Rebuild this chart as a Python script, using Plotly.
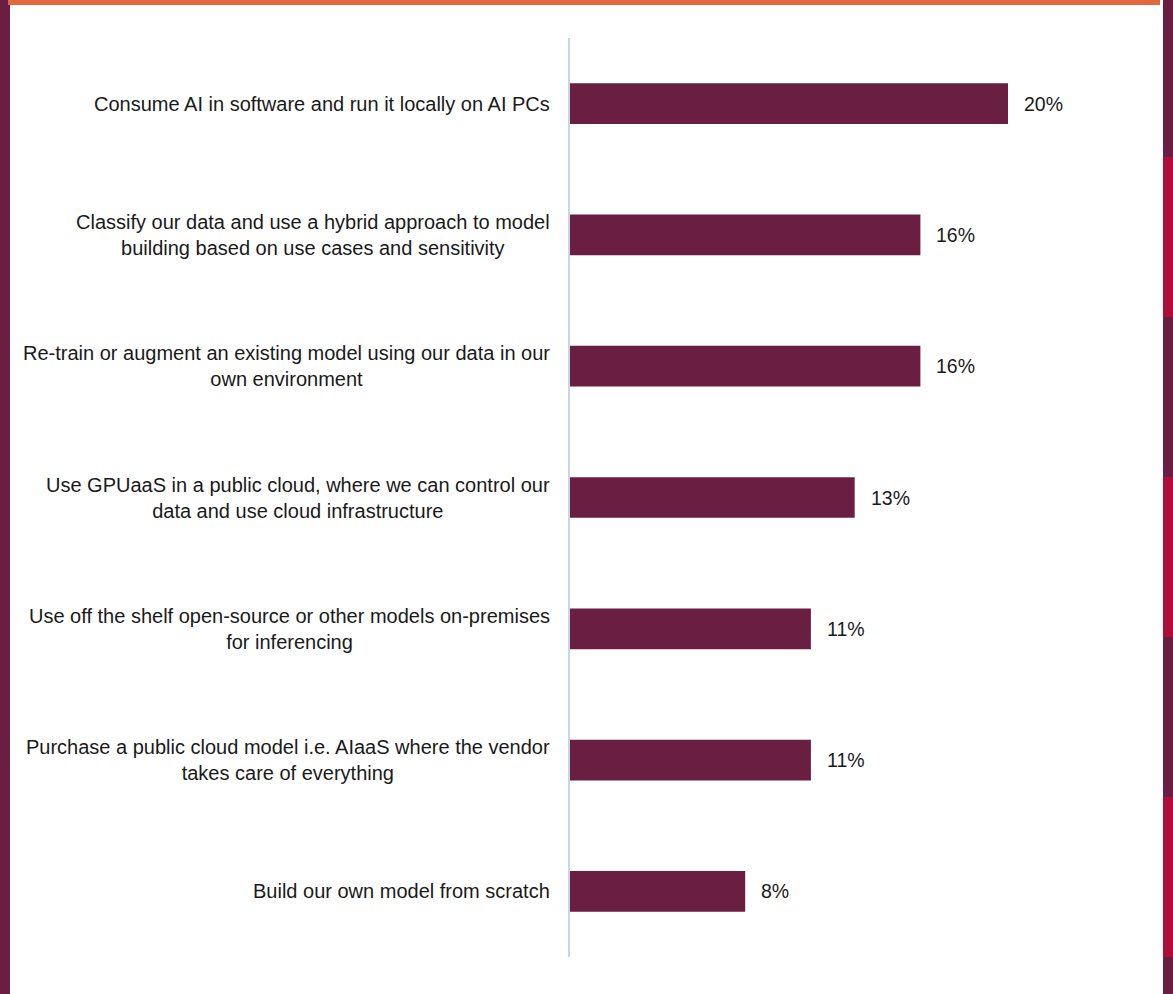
import plotly.graph_objects as go

categories = [
    "Consume AI in software and run it locally on AI PCs",
    "Classify our data and use a hybrid approach to model<br>building based on use cases and sensitivity",
    "Re-train or augment an existing model using our data in our<br>own environment",
    "Use GPUaaS in a public cloud, where we can control our<br>data and use cloud infrastructure",
    "Use off the shelf open-source or other models on-premises<br>for inferencing",
    "Purchase a public cloud model i.e. AIaaS where the vendor<br>takes care of everything",
    "Build our own model from scratch",
]
values = [20, 16, 16, 13, 11, 11, 8]
value_labels = ["20%", "16%", "16%", "13%", "11%", "11%", "8%"]

W, H = 1173, 994
ML, MR, MT, MB = 570, 23, 38, 37
PW = W - ML - MR
PH = H - MT - MB

FONT = "Arial, 'Liberation Sans', sans-serif"
PLUM = "#6A1E41"
CRIMSON = "#B10D3B"
ORANGE = "#E4663F"

fig = go.Figure()
fig.add_trace(go.Bar(
    y=categories, x=values, orientation="h",
    marker=dict(color=PLUM, line=dict(width=0)),
    width=0.31, hoverinfo="skip",
))

annotations = []
for cat, v, lab in zip(categories, values, value_labels):
    annotations.append(dict(
        x=0, xref="paper", y=cat, yref="y", text=cat,
        xanchor="right", yanchor="middle", align="center",
        xshift=-18, showarrow=False,
        font=dict(family=FONT, size=20, color="#1a1a1a"),
    ))
    annotations.append(dict(
        x=v, xref="x", y=cat, yref="y", text=lab,
        xanchor="left", yanchor="middle", xshift=14, showarrow=False,
        font=dict(family=FONT, size=19.5, color="#1a1a1a"),
    ))

def px_x(p):
    return (p - ML) / PW

def px_y(p):
    return 1 - (p - MT) / PH

shapes = []
# left strip
shapes.append(dict(type="rect", xref="paper", yref="paper", x0=px_x(0), x1=px_x(10),
                   y0=px_y(0), y1=px_y(H), fillcolor=PLUM, line=dict(width=0), layer="above"))
# top orange bar
shapes.append(dict(type="rect", xref="paper", yref="paper", x0=px_x(8), x1=px_x(1160),
                   y0=px_y(0), y1=px_y(5), fillcolor=ORANGE, line=dict(width=0), layer="above"))
# right strip segments
bounds = [0, 157, 317, 477, 637, 797, 957, H]
for i in range(len(bounds) - 1):
    shapes.append(dict(type="rect", xref="paper", yref="paper", x0=px_x(1163), x1=px_x(W),
                       y0=px_y(bounds[i]), y1=px_y(bounds[i + 1]),
                       fillcolor=PLUM if i % 2 == 0 else CRIMSON, line=dict(width=0), layer="above"))

fig.update_layout(
    width=W, height=H, autosize=False,
    margin=dict(l=ML, r=MR, t=MT, b=MB, pad=0),
    paper_bgcolor="white", plot_bgcolor="white",
    showlegend=False,
    xaxis=dict(range=[0, PW / 21.9], visible=False, fixedrange=True),
    yaxis=dict(autorange="reversed", showticklabels=False, showgrid=False,
               zeroline=False, showline=True, linecolor="#C8D5E9", linewidth=2,
               ticks="", fixedrange=True),
    annotations=annotations,
    shapes=shapes,
    bargap=0.69,
)

fig.write_html(
    "out.html",
    config={"displayModeBar": False},
    post_script="document.body.style.margin='0';document.body.style.padding='0';document.body.style.overflow='hidden';",
)
